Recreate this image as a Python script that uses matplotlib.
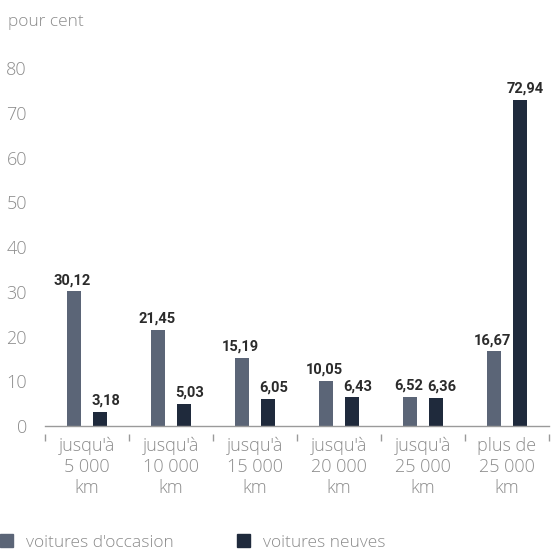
import matplotlib
matplotlib.use("Agg")
import matplotlib.pyplot as plt
from matplotlib.patches import Patch
import numpy as np

categories = ["jusqu'à\n5 000\nkm", "jusqu'à\n10 000\nkm", "jusqu'à\n15 000\nkm",
              "jusqu'à\n20 000\nkm", "jusqu'à\n25 000\nkm", "plus de\n25 000\nkm"]
occasion = [30.12, 21.45, 15.19, 10.05, 6.52, 16.67]
neuves = [3.18, 5.03, 6.05, 6.43, 6.36, 72.94]
series_names = ["voitures d'occasion", "voitures neuves"]
yticks = [0, 10, 20, 30, 40, 50, 60, 70, 80]

c_occ = "#5b6577"
c_neu = "#1f2a3c"
grey_txt = "#8c8c8c"
label_font = "Open Sans"
value_font = ["Roboto", "DejaVu Sans"]

W = 552
fig = plt.figure(figsize=(5.52, 5.52), dpi=100)
ax = fig.add_axes([45 / W, (W - 426) / W, 504 / W, 380 / W])

x = np.arange(len(categories))
bw = 0.167
off = 0.155
ax.bar(x - off, occasion, width=bw, color=c_occ)
ax.bar(x + off, neuves, width=bw, color=c_neu)

def fmt(v):
    return f"{v:.2f}".replace(".", ",")

# value labels; the second series' labels are nudged right to keep pairs apart
for xs, vals, dx in ((x - off, occasion, -1), (x + off, neuves, 4)):
    for xi, v in zip(xs, vals):
        ax.annotate(fmt(v), (xi, v), xytext=(dx, 3), textcoords="offset points",
                    ha="center", va="bottom", fontsize=10.5, fontweight="bold",
                    family=value_font, color="#2b2b2b")

ax.set_xlim(-0.5, len(categories) - 0.5)
ax.set_ylim(0, 85)

for s in ["top", "right", "left"]:
    ax.spines[s].set_visible(False)
ax.spines["bottom"].set_color("#9a9a9a")
ax.spines["bottom"].set_linewidth(1.0)

ax.set_yticks(yticks)
ax.set_yticklabels([str(t) for t in yticks], fontsize=13, color=grey_txt,
                   family=label_font, fontweight="light")
ax.tick_params(axis="y", length=0, pad=13)

ax.set_xticks(x)
ax.set_xticklabels(categories, fontsize=13, color=grey_txt, family=label_font,
                   fontweight="light", linespacing=1.2)
ax.tick_params(axis="x", length=0, pad=8)

# small separators between category groups, set slightly below the baseline
bounds = np.arange(len(categories) + 1) - 0.5
ax.vlines(bounds, -8 / 380, -15 / 380, transform=ax.get_xaxis_transform(),
          color="#9a9a9a", linewidth=1.0, clip_on=False)

fig.text(8 / W, 1 - 22 / W, "pour cent", fontsize=12.5, color=grey_txt,
         family=label_font, fontweight="light", va="center", ha="left")

handles = [Patch(color=c_occ), Patch(color=c_neu)]
fig.legend(handles, series_names, loc="lower left", bbox_to_anchor=(0, 0.002),
           ncol=2, frameon=False, handlelength=0.75,
           handleheight=0.75, handletextpad=0.75, columnspacing=3.65,
           borderaxespad=0.0, borderpad=0.0,
           prop={"family": label_font, "weight": "light", "size": 12.5},
           labelcolor=grey_txt)

fig.savefig("out.png", dpi=100, facecolor="white")
